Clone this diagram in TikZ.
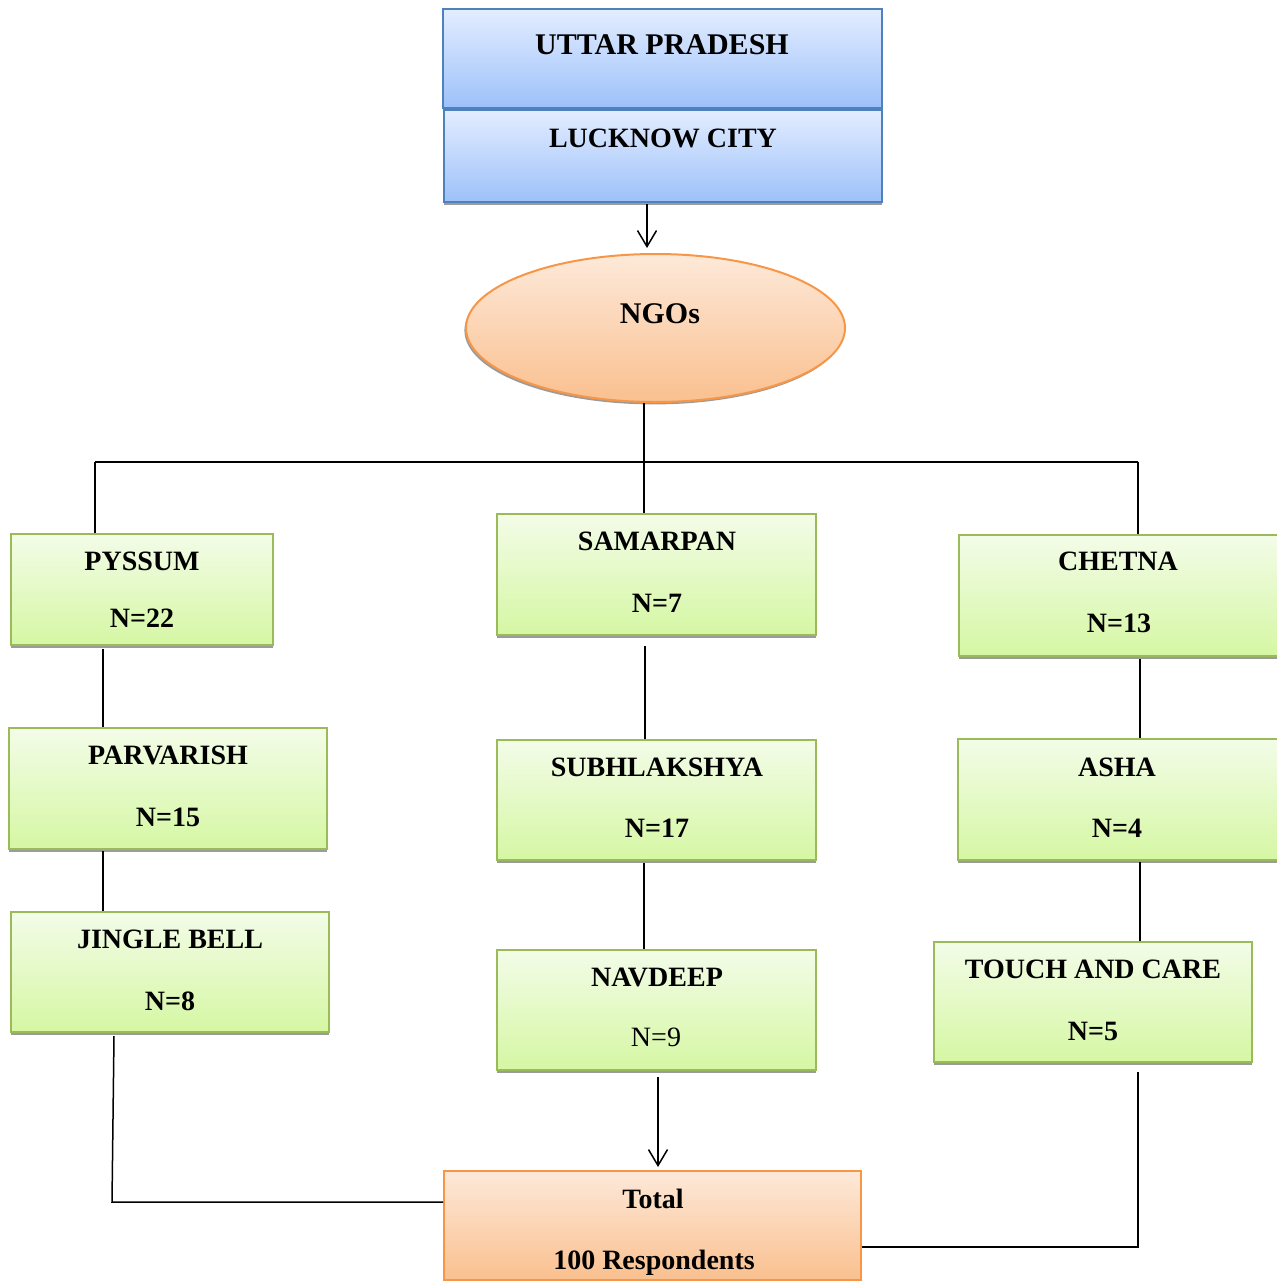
\documentclass[tikz,border=0pt]{standalone}
\usepackage{fontspec}
\setmainfont{Liberation Serif}
\usetikzlibrary{fit,shapes.geometric,shadows,arrows.meta}
\definecolor{bluetop}{HTML}{E3EDFF}
\definecolor{bluebot}{HTML}{9DC1FA}
\definecolor{blueline}{HTML}{4F81BD}
\definecolor{greentop}{HTML}{F3FCE8}
\definecolor{greenbot}{HTML}{D5F7A3}
\definecolor{greenline}{HTML}{9BBB59}
\definecolor{orangetop}{HTML}{FDE9D9}
\definecolor{orangebot}{HTML}{FAC08F}
\definecolor{orangeline}{HTML}{F79646}
\tikzset{
  boxbase/.style={rectangle, inner sep=0pt, line width=1pt,
    drop shadow={shadow xshift=0pt, shadow yshift=-1.6pt, opacity=0.65, fill=gray!80!black}},
  bluebox/.style={boxbase, draw=blueline, top color=bluetop, bottom color=bluebot},
  greenbox/.style={boxbase, draw=greenline, top color=greentop, bottom color=greenbot},
  orangebox/.style={boxbase, draw=orangeline, top color=orangetop, bottom color=orangebot},
  txt/.style={anchor=base, inner sep=0pt, font=\fontsize{14}{16}\selectfont\bfseries},
  bigtxt/.style={anchor=base, inner sep=0pt, font=\fontsize{15}{17}\selectfont\bfseries},
  plaintxt/.style={anchor=base, inner sep=0pt, font=\fontsize{14}{16}\selectfont},
  conn/.style={line width=0.75pt, black},
  arr/.style={conn, -{Straight Barb[length=8pt,width=9.5pt,line width=0.75pt]}}
}
\begin{document}
\begin{tikzpicture}[x=0.5pt,y=-0.5pt]
\useasboundingbox (0,0) rectangle (1276,1281);
% top boxes
\node[bluebox, fit={(443,9)(882,108)}] (up) {};
\node[bluebox, fit={(444,110)(882,202)}] (lko) {};
\node[bigtxt] (tup) at (662,54) {UTTAR PRADESH};
\node[txt] (tlko) at (663,147) {LUCKNOW CITY};
% NGO ellipse
\node[ellipse, line width=1pt, draw=orangeline, top color=orangetop, bottom color=orangebot,
  minimum width=379*0.5pt, minimum height=148*0.5pt, inner sep=0pt,
  drop shadow={shadow xshift=-0.8pt, shadow yshift=-1.2pt, opacity=0.65, fill=gray!80!black}]
  (ngo) at (655.5,328) {};
\node[bigtxt] (tngo) at (660,323) {NGOs};
% level 1
\node[greenbox, fit={(11,534)(273,645)}] (pyssum) {};
\node[txt] at (142,570) {PYSSUM};
\node[txt] at (142,627) {N=22};
\node[greenbox, fit={(497,514)(816,635)}] (samarpan) {};
\node[txt] at (657,550) {SAMARPAN};
\node[txt] at (657,612) {N=7};
\node[greenbox, fit={(959,535)(1280,656)}] (chetna) {};
\node[txt] at (1118,570) {CHETNA};
\node[txt] at (1119,632) {N=13};
% level 2
\node[greenbox, fit={(9,728)(327,849)}] (parvarish) {};
\node[txt] at (168,764) {PARVARISH};
\node[txt] at (168,826) {N=15};
\node[greenbox, fit={(497,740)(816,860)}] (subh) {};
\node[txt] at (657,776) {SUBHLAKSHYA};
\node[txt] at (657,837) {N=17};
\node[greenbox, fit={(958,739)(1280,860)}] (asha) {};
\node[txt] at (1117,776) {ASHA};
\node[txt] at (1117,837) {N=4};
% level 3
\node[greenbox, fit={(11,912)(329,1032)}] (jingle) {};
\node[txt] at (170,948) {JINGLE BELL};
\node[txt] at (170,1010) {N=8};
\node[greenbox, fit={(497,950)(816,1070)}] (navdeep) {};
\node[txt] at (657,986) {NAVDEEP};
\node[plaintxt] at (656,1046) {N=9};
\node[greenbox, fit={(934,942)(1252,1062)}] (touch) {};
\node[txt] at (1093,978) {TOUCH AND CARE};
\node[txt] at (1093,1040) {N=5};
% total
\node[orangebox, fit={(444,1171)(861,1280)}] (total) {};
\node[txt] at (653,1208) {Total};
\node[txt] at (654,1269) {100 Respondents};
% connector coordinates
\coordinate (a1) at (647,204);
\coordinate (a2) at (647,248);
\coordinate (j) at (644,462);
\coordinate (jl) at (95,462);
\coordinate (jr) at (1138,462);
\coordinate (c1) at (103,649);
\coordinate (c2) at (103,851);
\coordinate (c3) at (645,646);
\coordinate (c4) at (644,863);
\coordinate (c5) at (1140,659);
\coordinate (c6) at (1140,862);
\coordinate (b1) at (114,1036);
\coordinate (b2) at (112,1202);
\coordinate (n1) at (658,1077);
\coordinate (n2) at (658,1167);
\coordinate (t1) at (1138,1072);
\coordinate (t2) at (1138,1247);
% connectors
\draw[arr] (a1) -- (a2);
\draw[conn] (j |- ngo.south) -- (j);
\draw[conn] (jl) -- (jr);
\draw[conn] (jl) -- (jl |- pyssum.north);
\draw[conn] (j) -- (j |- samarpan.north);
\draw[conn] (jr) -- (jr |- chetna.north);
\draw[conn] (c1) -- (c1 |- parvarish.north);
\draw[conn] (c2) -- (c2 |- jingle.north);
\draw[conn] (c3) -- (c3 |- subh.north);
\draw[conn] (c4) -- (c4 |- navdeep.north);
\draw[conn] (c5) -- (c5 |- asha.north);
\draw[conn] (c6) -- (c6 |- touch.north);
\draw[conn] (b1) -- (b2) -- (b2 -| total.west);
\draw[arr] (n1) -- (n2);
\draw[conn] (t1) -- (t2) -- (t2 -| total.east);
\end{tikzpicture}
\end{document}
